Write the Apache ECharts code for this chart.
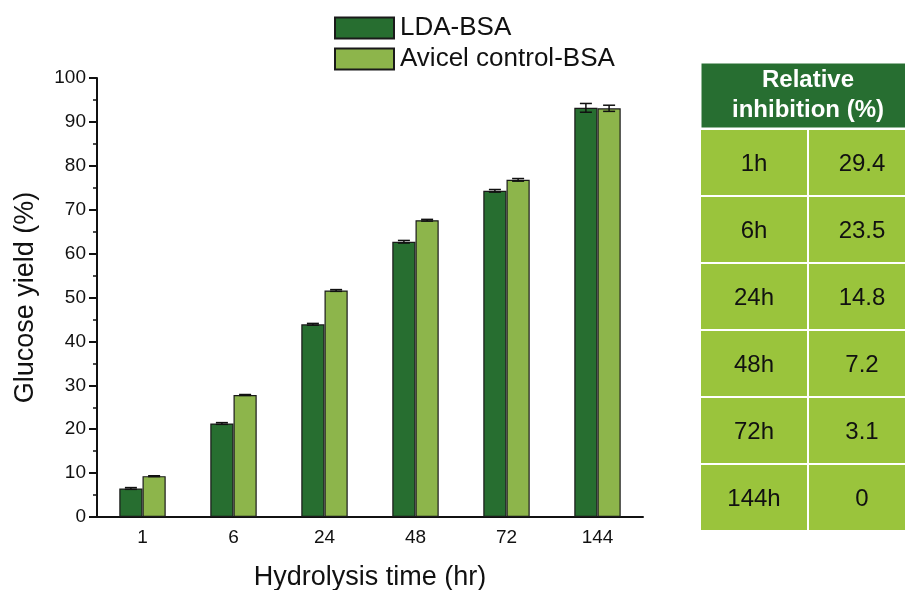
<!DOCTYPE html>
<html>
<head>
<meta charset="utf-8">
<script src="https://cdn.jsdelivr.net/npm/echarts@6/dist/echarts.min.js"></script>
<style>html,body{margin:0;padding:0;background:#fff}#c{width:905px;height:590px}</style>
</head>
<body>
<div id="c"></div>
<script>
var categories = ['1', '6', '24', '48', '72', '144'];
var ldaBsa = [6.5, 21.3, 43.9, 62.7, 74.3, 93.2];
var avicelBsa = [9.3, 27.8, 51.6, 67.6, 76.8, 93.1];
var ldaErr = [0.2, 0.2, 0.2, 0.3, 0.3, 1.0];
var avicelErr = [0.1, 0.1, 0.2, 0.2, 0.3, 0.7];
var yTicks = [0, 10, 20, 30, 40, 50, 60, 70, 80, 90, 100];
var tableHeader = 'Relative\ninhibition (%)';
var tableTimes = ['1h', '6h', '24h', '48h', '72h', '144h'];
var inhibition = ['29.4', '23.5', '14.8', '7.2', '3.1', '0'];

var DARK = '#276E30', LIGHT = '#8DB54B', CELL = '#9AC43C', HEAD = '#276E31';
var FONT = 'Liberation Sans, Arial, sans-serif';

var chart = echarts.init(document.getElementById('c'));

var errData = [];
categories.forEach(function (c, i) {
  errData.push([i, ldaBsa[i], ldaErr[i], -1]);
  errData.push([i, avicelBsa[i], avicelErr[i], 1]);
});

var tableRows = ['h'].concat(tableTimes);
var tableData = [[0, 0, tableHeader, 'head']];
tableTimes.forEach(function (t, i) {
  tableData.push([0, i + 1, t, 'cell']);
  tableData.push([1, i + 1, inhibition[i], 'cell']);
});

chart.setOption({
  animation: false,
  textStyle: { fontFamily: FONT },
  legend: {
    orient: 'vertical', left: 334, top: 15, padding: 0, icon: 'rect',
    itemWidth: 59, itemHeight: 21, itemGap: 5,
    textStyle: { fontSize: 26, color: '#111', fontFamily: FONT, padding: [0, 0, 0, 1] },
    data: ['LDA-BSA', 'Avicel control-BSA']
  },
  grid: [
    { left: 97, top: 78, width: 546, height: 439, containLabel: false, outerBoundsMode: 'none' },
    { left: 700, top: 62, width: 216, height: 469, containLabel: false, outerBoundsMode: 'none' }
  ],
  xAxis: [
    {
      type: 'category', gridIndex: 0, data: categories,
      name: 'Hydrolysis time (hr)', nameLocation: 'middle', nameGap: 47,
      nameTextStyle: { fontSize: 27, color: '#111', fontFamily: FONT },
      axisLine: { lineStyle: { color: '#111', width: 2 } },
      axisTick: { alignWithLabel: true, length: 6, lineStyle: { color: '#111', width: 2 } },
      axisLabel: { fontSize: 19, color: '#111', margin: 11, fontFamily: FONT }
    },
    { type: 'category', gridIndex: 1, data: ['c0', 'c1'], show: false }
  ],
  yAxis: [
    {
      type: 'value', gridIndex: 0, min: 0, max: 100, interval: 10,
      name: 'Glucose yield (%)', nameLocation: 'middle', nameGap: 58,
      nameTextStyle: { fontSize: 27, color: '#111', fontFamily: FONT },
      axisLine: { show: true, lineStyle: { color: '#111', width: 2 } },
      axisTick: { show: true, length: 8, lineStyle: { color: '#111', width: 2 } },
      minorTick: { show: true, splitNumber: 2, length: 4, lineStyle: { color: '#111', width: 1.5 } },
      splitLine: { show: false },
      axisLabel: {
        fontSize: 19, color: '#111', margin: 11, fontFamily: FONT,
        formatter: function (v) { return yTicks.indexOf(v) >= 0 ? String(v) : ''; }
      }
    },
    { type: 'category', gridIndex: 1, data: tableRows, inverse: true, show: false }
  ],
  series: [
    {
      name: 'LDA-BSA', type: 'bar', xAxisIndex: 0, yAxisIndex: 0, data: ldaBsa,
      barWidth: '25.5%', barGap: '0%',
      itemStyle: { color: DARK, borderColor: '#1a1a1a', borderWidth: 1.2 }
    },
    {
      name: 'Avicel control-BSA', type: 'bar', xAxisIndex: 0, yAxisIndex: 0, data: avicelBsa,
      barWidth: '25.5%', barGap: '0%',
      itemStyle: { color: LIGHT, borderColor: '#1a1a1a', borderWidth: 1.2 }
    },
    {
      type: 'custom', xAxisIndex: 0, yAxisIndex: 0, data: errData, z: 10,
      renderItem: function (params, api) {
        var i = api.value(0), v = api.value(1), e = api.value(2), side = api.value(3);
        var bw = api.size([1, 0])[0] * 0.255;
        var c = api.coord([i, v]);
        var x = c[0] + side * bw / 2;
        var top = api.coord([i, v + e])[1];
        var bot = api.coord([i, v - e])[1];
        var hw = 6;
        var st = { stroke: '#111', lineWidth: 1.5 };
        return {
          type: 'group',
          children: [
            { type: 'line', shape: { x1: x, y1: top, x2: x, y2: bot }, style: st },
            { type: 'line', shape: { x1: x - hw, y1: top, x2: x + hw, y2: top }, style: st },
            { type: 'line', shape: { x1: x - hw, y1: bot, x2: x + hw, y2: bot }, style: st }
          ]
        };
      }
    },
    {
      type: 'custom', xAxisIndex: 1, yAxisIndex: 1, data: tableData,
      renderItem: function (params, api) {
        var col = api.value(0), row = api.value(1);
        var d = tableData[params.dataIndex];
        var size = api.size([1, 1]);
        var c = api.coord([col, row]);
        var isHead = d[3] === 'head';
        var w = isHead ? size[0] * 2 : size[0];
        var cx = isHead ? c[0] + size[0] / 2 : c[0];
        var x0 = cx - w / 2, y0 = c[1] - size[1] / 2;
        return {
          type: 'group',
          children: [
            {
              type: 'rect',
              shape: { x: x0, y: y0, width: w, height: size[1] },
              style: { fill: isHead ? HEAD : CELL, stroke: '#ffffff', lineWidth: isHead ? 3 : 2 }
            },
            {
              type: 'text',
              style: {
                x: cx, y: c[1] + (isHead ? 0 : 2), text: d[2],
                align: 'center', verticalAlign: 'middle',
                fill: isHead ? '#ffffff' : '#111',
                font: (isHead ? 'bold 24px ' : '24px ') + FONT,
                lineHeight: 30
              }
            }
          ]
        };
      }
    }
  ]
});
</script>
</body>
</html>
